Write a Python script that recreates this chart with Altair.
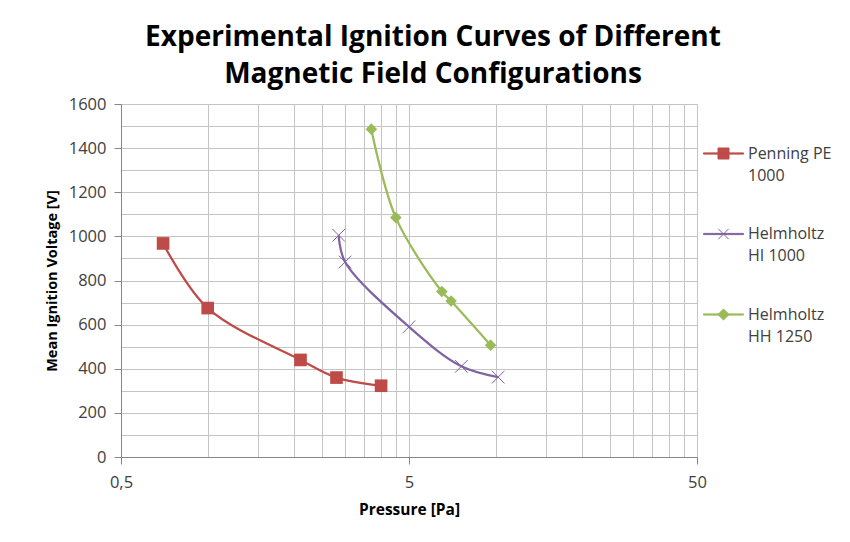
import altair as alt
import pandas as pd

# ---- data ----
series = ["Penning PE 1000", "Helmholtz HI 1000", "Helmholtz HH 1250"]
legend_text = [["Penning PE", "1000"], ["Helmholtz", "HI 1000"], ["Helmholtz", "HH 1250"]]
colors = ["#BE4B48", "#7E62A1", "#9BBB59"]

pen_p = [0.70, 1.0, 2.1, 2.8, 4.0]
pen_v = [968, 675, 440, 360, 323]
hi_p = [2.85, 3.0, 5.0, 7.6, 10.2]
hi_v = [1005, 884, 590, 411, 362]
hh_p = [3.7, 4.5, 6.5, 7.0, 9.6]
hh_v = [1486, 1085, 750, 707, 507]

x_ticks = [0.5, 1, 1.5, 2, 2.5, 3, 3.5, 4, 4.5, 5, 10, 15, 20, 25, 30, 35, 40, 45, 50]
x_labels = [0.5, 5, 50]
y_ticks = [0, 100, 200, 300, 400, 500, 600, 700, 800, 900, 1000, 1100, 1200,
           1300, 1400, 1500, 1600]
y_labels = [0, 200, 400, 600, 800, 1000, 1200, 1400, 1600]

rows = []
for name, ps, vs in zip(series, [pen_p, hi_p, hh_p], [pen_v, hi_v, hh_v]):
    for i, (p, v) in enumerate(zip(ps, vs)):
        rows.append({"series": name, "pressure": p, "voltage": v, "order": i})
df = pd.DataFrame(rows)

# ---- styling helpers ----
GRID = "#c4c4c4"
AXIS = "#868686"
TXT = "#404040"
FONT = "Open Sans"


def js_list(vals):
    return "[" + ",".join(str(v) for v in vals) + "]"


x_major = f"indexof({js_list(x_labels)}, datum.value) >= 0"
y_major = f"indexof({js_list(y_labels)}, datum.value) >= 0"

label_expr = ""
for name, lines in zip(series[:-1], legend_text[:-1]):
    label_expr += f"datum.label == '{name}' ? ['{lines[0]}', '{lines[1]}'] : "
label_expr += f"['{legend_text[-1][0]}', '{legend_text[-1][1]}']"

# legend glyphs: a short line with the series marker on it
bar = "M-1,-0.03H1V0.03H-1Z"
sym_paths = [
    bar + "M-0.275,-0.275H0.275V0.275H-0.275Z",
    bar + "M-0.26,-0.26L0.26,0.26M-0.26,0.26L0.26,-0.26",
    bar + "M0,-0.28L0.28,0L0,0.28L-0.28,0Z",
]

color_scale = alt.Scale(domain=series, range=colors)

x_enc = alt.X(
    "pressure:Q",
    scale=alt.Scale(type="log", domain=[0.5, 50], nice=False),
    axis=alt.Axis(
        values=x_ticks,
        title="Pressure [Pa]",
        titleFont=FONT,
        titleFontSize=15.5,
        titleFontWeight="bold",
        titleColor="#000000",
        titlePadding=12,
        labelExpr=f"{x_major} ? replace(toString(datum.value), '.', ',') : ''",
        labelFont=FONT,
        labelFontSize=16.5,
        labelColor=TXT,
        labelFlush=False,
        labelOverlap=False,
        labelPadding=10,
        tickSize=7,
        tickColor={"condition": {"test": x_major, "value": AXIS}, "value": "transparent"},
        gridColor=GRID,
        domainColor=AXIS,
    ),
)
y_enc = alt.Y(
    "voltage:Q",
    scale=alt.Scale(domain=[0, 1600], nice=False),
    axis=alt.Axis(
        values=y_ticks,
        tickCount=17,
        title="Mean Ignition Voltage [V]",
        titleFont=FONT,
        titleFontSize=14.5,
        titleFontWeight="bold",
        titleColor="#000000",
        titlePadding=9,
        labelExpr=f"{y_major} ? toString(datum.value) : ''",
        labelFont=FONT,
        labelFontSize=16.5,
        labelColor=TXT,
        labelOverlap=False,
        labelPadding=8,
        tickSize=7,
        tickColor={"condition": {"test": y_major, "value": AXIS}, "value": "transparent"},
        gridColor=GRID,
        domainColor=AXIS,
    ),
)

legend = alt.Legend(
    title=None,
    orient="none",
    legendX=582,
    legendY=29,
    padding=0,
    symbolSize=1600,
    symbolStrokeWidth=1,
    symbolOpacity=1,
    labelFont=FONT,
    labelFontSize=16,
    labelColor=TXT,
    labelOffset=4,
    labelLimit=200,
    labelExpr=label_expr,
    rowPadding=29.5,
)

base = alt.Chart(df)

# invisible layer that only feeds the legend (line + marker glyphs); listed
# first so that its legend settings win when the layers are merged
legend_layer = base.mark_point(filled=True, opacity=0, strokeWidth=1).encode(
    x=x_enc,
    y=y_enc,
    color=alt.Color("series:N", scale=color_scale, legend=legend),
    stroke=alt.Stroke("series:N", scale=color_scale, legend=legend),
    shape=alt.Shape("series:N", scale=alt.Scale(domain=series, range=sym_paths),
                    legend=legend),
)

lines = base.mark_line(interpolate="catmull-rom", strokeWidth=2.25).encode(
    x="pressure:Q",
    y="voltage:Q",
    color=alt.Color("series:N", scale=color_scale, legend=None),
    detail="series:N",
    order="order:Q",
)

squares = base.transform_filter(alt.datum.series == series[0]).mark_point(
    shape="square", filled=True, size=160, opacity=1
).encode(x="pressure:Q", y="voltage:Q",
         color=alt.Color("series:N", scale=color_scale, legend=None))

crosses = base.transform_filter(alt.datum.series == series[1]).mark_point(
    shape="M-1,-1L1,1M-1,1L1,-1", filled=False, size=160, opacity=1, strokeWidth=1
).encode(x="pressure:Q", y="voltage:Q",
         color=alt.Color("series:N", scale=color_scale, legend=None))

diamonds = base.transform_filter(alt.datum.series == series[2]).mark_point(
    shape="diamond", filled=True, size=135, opacity=1
).encode(x="pressure:Q", y="voltage:Q",
         color=alt.Color("series:N", scale=color_scale, legend=None))

chart = (
    alt.layer(legend_layer, lines, squares, crosses, diamonds)
    .properties(
        width=576,
        height=353,
        autosize=alt.AutoSizeParams(type="none"),
        padding={"left": 113, "top": 96, "right": 140, "bottom": 70},
        title=alt.TitleParams(
            text=["Experimental Ignition Curves of Different",
                  "Magnetic Field Configurations"],
            font=FONT,
            fontSize=28,
            fontWeight="bold",
            color="#000000",
            anchor="middle",
            frame="group",
            dx=24,
            offset=7,
            lineHeight=37,
        ),
    )
    .configure_view(stroke=None)
    .configure(background="white", style={"guide-label": {"lineHeight": 22}})
)

chart.save("out.html", embed_options={"renderer": "svg", "actions": False})
